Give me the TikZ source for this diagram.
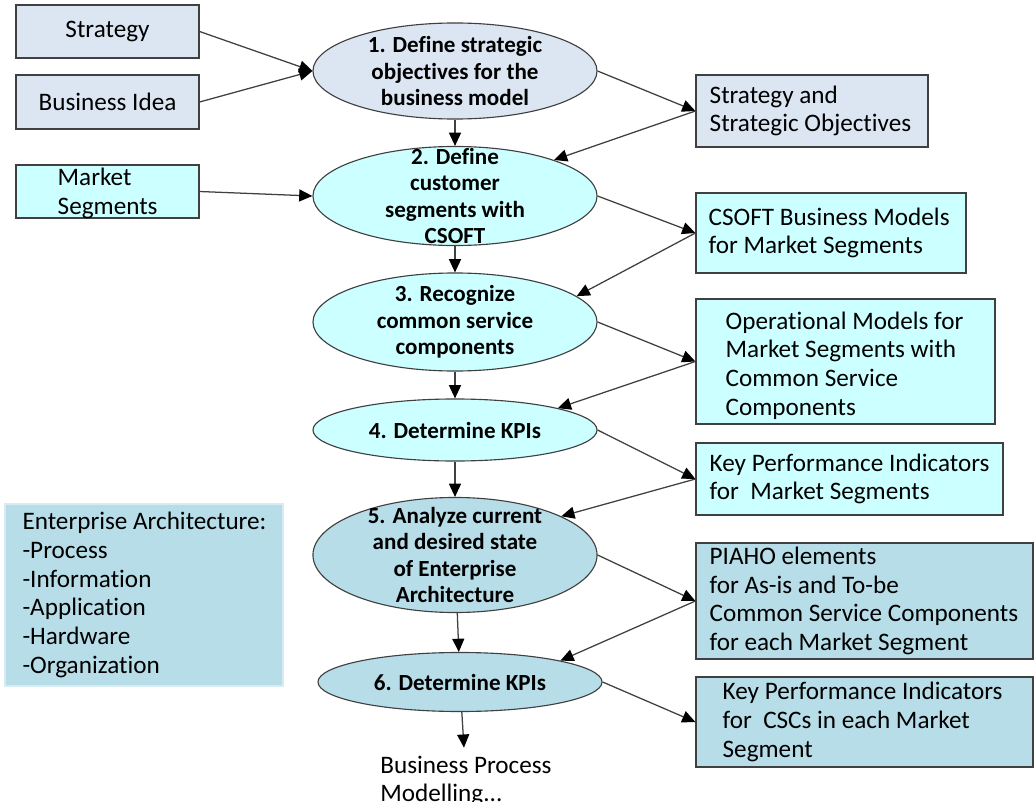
\documentclass[tikz,border=0pt]{standalone}
\usepackage{fontspec}
\setmainfont{Carlito}[Ligatures=NoCommon]
\usetikzlibrary{arrows.meta, positioning, shapes.geometric}

\definecolor{paleblue}{HTML}{DCE6F2}
\definecolor{palecyan}{HTML}{CCFFFF}
\definecolor{paleteal}{HTML}{B7DDE8}
\definecolor{linegray}{HTML}{404040}

\tikzset{
    stage/.style={draw=linegray, ellipse, line width=0.8pt, minimum width=7.1cm, inner sep=0pt},
    stagetext/.style={align=center, inner sep=0pt, font=\bfseries\fontsize{16.4}{18.9}\selectfont},
    infobox/.style={draw=linegray, rectangle, line width=0.8pt, inner sep=0pt},
    boxtext/.style={align=left, inner sep=0pt, font=\fontsize{17.9}{20.4}\selectfont},
    flow/.style={draw=linegray, line width=0.9pt, -{Triangle[length=0.33cm, width=0.3cm, color=black]}}
}

\begin{document}
\begin{tikzpicture}[x=0.025cm, y=-0.025cm]
    \useasboundingbox (0,0) rectangle (1035,802);
    \fill[white] (0,0) rectangle (1035,802);
    % 左侧输入
    \node[infobox, boxtext, fill=paleblue, minimum width=4.575cm, minimum height=1.325cm] (st) at (107.5,31.5) {Strategy};
    \node[infobox, boxtext, fill=paleblue, minimum width=4.575cm, minimum height=1.35cm] (bi) at (107.5,102) {Business Idea};
    \node[infobox, fill=palecyan, minimum width=4.575cm, minimum height=1.325cm] (ms) at (107.5,191.5) {};
    \node[boxtext, right=1.05cm of ms.west, yshift=-0.05cm] (mst) {Market\\Segments};
    % 步骤
    \node[stage, fill=paleblue, minimum height=2.4cm] (s1) at (455,71) {};
    \node[stagetext] (s1t) at (s1) {1. Define strategic\\objectives for the\\business model};
    \node[stage, fill=palecyan, minimum height=2.475cm] (s2) at (455,196) {};
    \node[stagetext] (s2t) at (s2) {2. Define\\customer\\segments with\\CSOFT};
    \node[stage, fill=palecyan, minimum height=2.45cm] (s3) at (455,322) {};
    \node[stagetext] (s3t) at (s3) {3. Recognize\\common service\\components};
    \node[stage, fill=palecyan, minimum height=1.55cm] (s4) at (455,430) {};
    \node[stagetext] (s4t) at (s4) {4. Determine KPIs};
    \node[stage, fill=paleteal, minimum height=2.875cm] (s5) at (455,555) {};
    \node[stagetext] (s5t) at (s5) {5. Analyze current\\and desired state\\of Enterprise\\Architecture};
    \node[stage, fill=paleteal, minimum height=1.475cm] (s6) at (460,682) {};
    \node[stagetext] (s6t) at (s6) {6. Determine KPIs};
    \node[boxtext, inner ysep=0.2cm, below=0.89cm of s6, xshift=0.15cm] (bpm) {Business Process\\Modelling...};
    % 右侧结果
    \node[infobox, fill=paleblue, minimum width=5.8cm, minimum height=1.8cm] (r1) at (812,111) {};
    \node[boxtext, right=0.35cm of r1.west] (r1t) {Strategy and\\Strategic Objectives};
    \node[infobox, fill=palecyan, minimum width=6.75cm, minimum height=2cm] (r2) at (831,233) {};
    \node[boxtext, right=0.325cm of r2.west] (r2t) {CSOFT Business Models\\for Market Segments};
    \node[infobox, fill=palecyan, minimum width=7.475cm, minimum height=3.125cm] (r3) at (845.5,361.5) {};
    \node[boxtext, right=0.75cm of r3.west, yshift=-0.1cm] (r3t) {Operational Models for\\Market Segments with\\Common Service\\Components};
    \node[infobox, fill=palecyan, minimum width=7.675cm, minimum height=1.8cm] (r4) at (849.5,479) {};
    \node[boxtext, right=0.35cm of r4.west] (r4t) {Key Performance Indicators\\for~~Market Segments};
    \node[infobox, fill=paleteal, minimum width=8.425cm, minimum height=2.9cm] (r5) at (864.5,601) {};
    \node[boxtext, right=0.35cm of r5.west] (r5t) {PIAHO elements\\for As-is and To-be\\Common Service Components\\for each Market Segment};
    \node[infobox, fill=paleteal, minimum width=8.425cm, minimum height=2.25cm] (r6) at (864.5,722) {};
    \node[boxtext, right=0.675cm of r6.west] (r6t) {Key Performance Indicators\\for~~CSCs in each Market\\Segment};
    % 企业架构
    \node[rectangle, draw=paleteal!55!white, line width=1pt, fill=paleteal, minimum width=6.95cm, minimum height=4.55cm] (ea) at (144,595) {};
    \node[boxtext, right=0.45cm of ea.west] (eat) {Enterprise Architecture:\\-Process\\-Information\\-Application\\-Hardware\\-Organization};
    % 连线
    \draw[flow] (st.east) -- (s1.west);
    \draw[flow] (bi.east) -- (s1.west);
    \draw[flow] (ms.east) -- (s2.west);
    \foreach \s/\r in {s1/r1, s2/r2, s3/r3, s4/r4, s5/r5, s6/r6}
        \draw[flow] (\s.east) -- (\r.west);
    \foreach \r/\s/\a in {r1/s2/20, r2/s3/12, r3/s4/12, r4/s5/20, r5/s6/12}
        \draw[flow] (\r.west) -- (\s.\a);
    \foreach \a/\b in {s1/s2, s2/s3, s3/s4, s4/s5, s5/s6, s6/bpm}
        \draw[flow] (\a) -- (\b);
\end{tikzpicture}
\end{document}
